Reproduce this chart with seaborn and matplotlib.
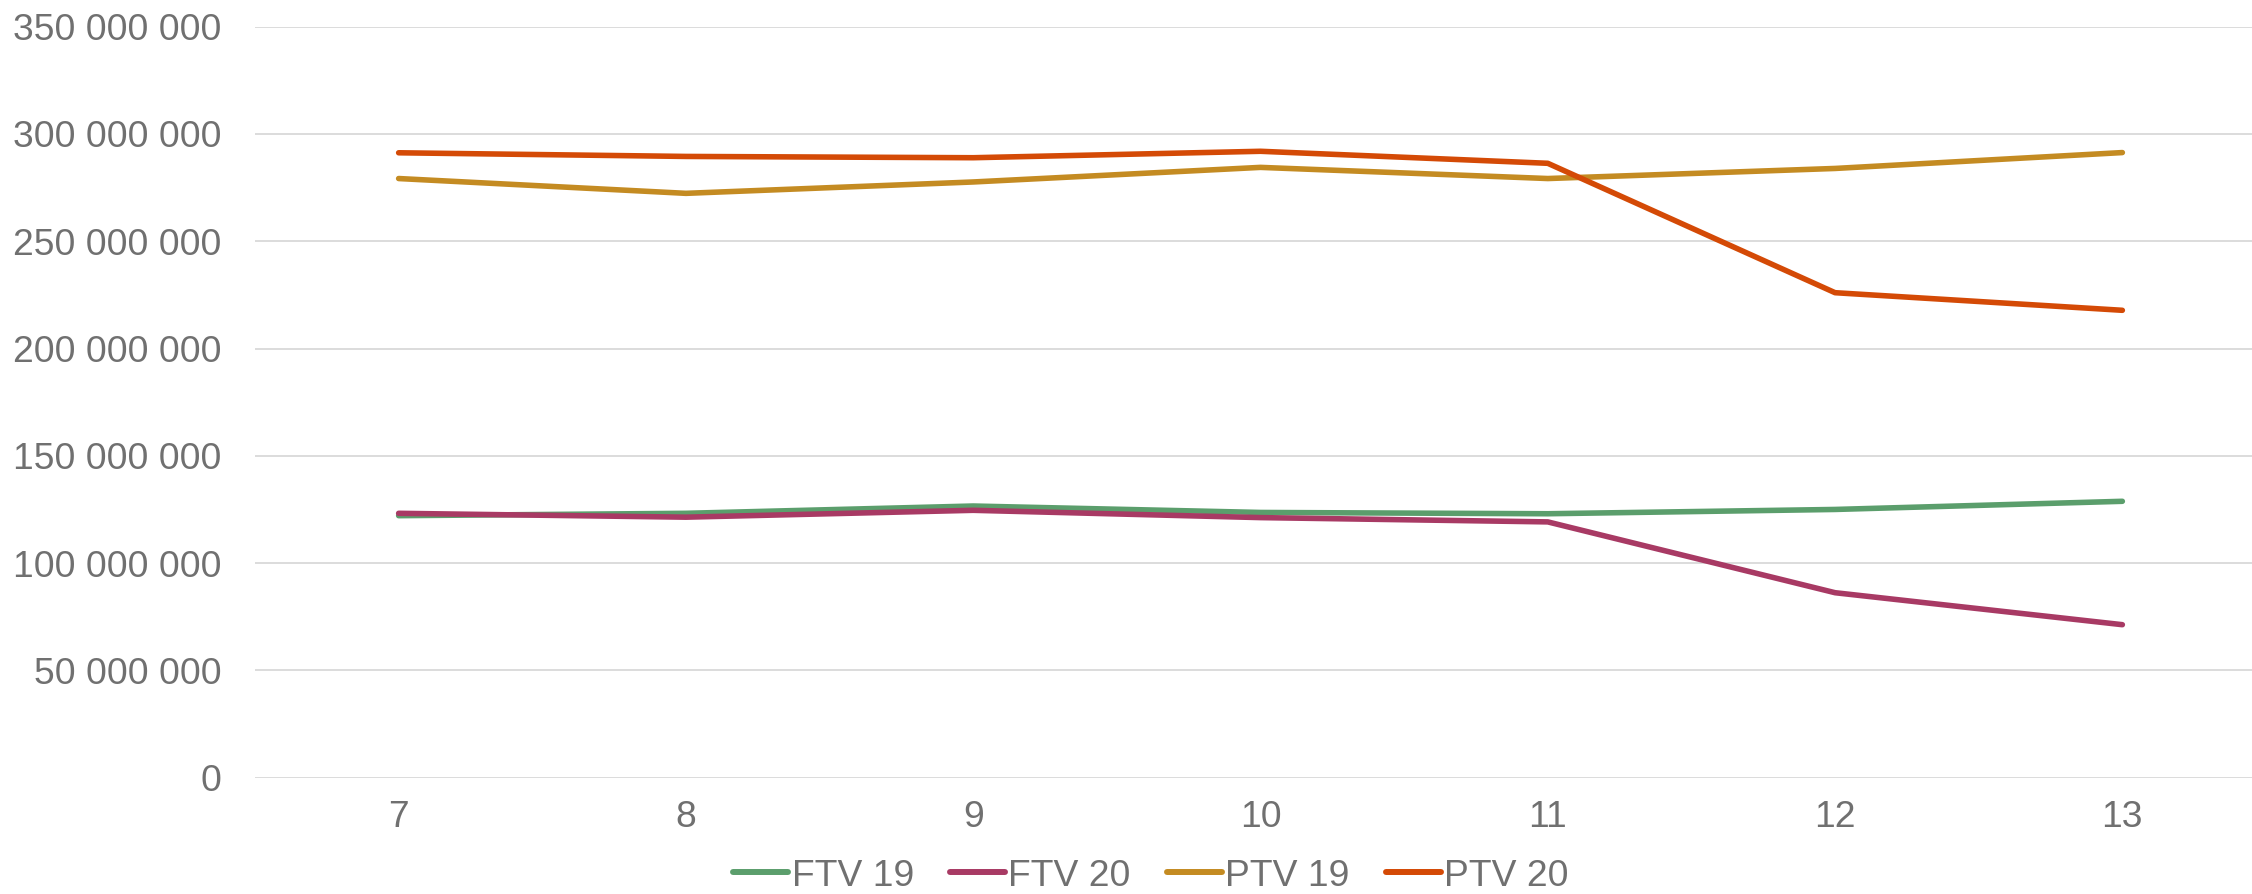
import pandas as pd
import matplotlib
matplotlib.use("Agg")
import matplotlib.pyplot as plt
import seaborn as sns
from matplotlib.ticker import FuncFormatter, MultipleLocator

# values (per period 7..13)
periods = [7, 8, 9, 10, 11, 12, 13]
ftv_19 = [122.1e6, 123.2e6, 126.6e6, 123.6e6, 123.0e6, 125.0e6, 128.8e6]
ftv_20 = [123.2e6, 121.4e6, 124.6e6, 121.2e6, 119.2e6, 86.2e6, 71.3e6]
ptv_19 = [279.2e6, 272.3e6, 277.6e6, 284.4e6, 279.2e6, 283.9e6, 291.3e6]
ptv_20 = [291.2e6, 289.5e6, 288.9e6, 291.9e6, 286.3e6, 226.0e6, 217.8e6]

series_names = ['FTV 19', 'FTV 20', 'PTV 19', 'PTV 20']
colors = {'FTV 19': '#5B9E6C', 'FTV 20': '#A83A64', 'PTV 19': '#C48B22', 'PTV 20': '#D44A06'}

df = pd.DataFrame({'period': periods, 'FTV 19': ftv_19, 'FTV 20': ftv_20,
                   'PTV 19': ptv_19, 'PTV 20': ptv_20})
long_df = df.melt(id_vars='period', var_name='series', value_name='value')

sns.set_theme(style="white")
plt.rcParams['font.family'] = ['Liberation Sans', 'DejaVu Sans']
text_color = '#707070'
font_size = 26.8

fig = plt.figure(figsize=(22.52, 8.94), dpi=100)
# plot area: left edge ~255px, category width ~287px, y from 777.7px (0) to 26.6px (350M)
ax = fig.add_axes([255 / 2252, (894 - 777.7) / 894, (2266 - 255) / 2252, (777.7 - 26.6) / 894])

sns.lineplot(data=long_df, x='period', y='value', hue='series', hue_order=series_names,
             palette=colors, linewidth=4.0, ax=ax, legend=True)
for line in ax.get_lines():
    line.set_solid_capstyle('round')
    line.set_solid_joinstyle('round')

ax.set_xlim(6.5, 13.5)
ax.set_ylim(0, 350e6)
ax.xaxis.set_major_locator(MultipleLocator(1))
ax.yaxis.set_major_locator(MultipleLocator(50e6))
ax.yaxis.set_major_formatter(FuncFormatter(lambda v, p: f"{int(v):,}".replace(",", " ")))

ax.grid(axis='y', color='#D9D9D9', linewidth=1.3)
ax.set_axisbelow(True)
for s in ax.spines.values():
    s.set_visible(False)

ax.tick_params(axis='both', length=0, labelsize=font_size, labelcolor=text_color)
ax.tick_params(axis='y', pad=24)
ax.tick_params(axis='x', pad=16)
ax.set_xlabel('')
ax.set_ylabel('')

handles, labels = ax.get_legend_handles_labels()
ax.legend_.remove()
for h in handles:
    h.set_linewidth(4.3)
    h.set_solid_capstyle('round')
fig.legend(handles, labels, loc='center', bbox_to_anchor=(1151 / 2252, (894 - 876) / 894),
           ncol=4, frameon=False, fontsize=font_size, labelcolor=text_color,
           handlelength=1.47, handletextpad=0.1, columnspacing=0.97,
           borderpad=0.2)

fig.savefig('out.png', dpi=100)
